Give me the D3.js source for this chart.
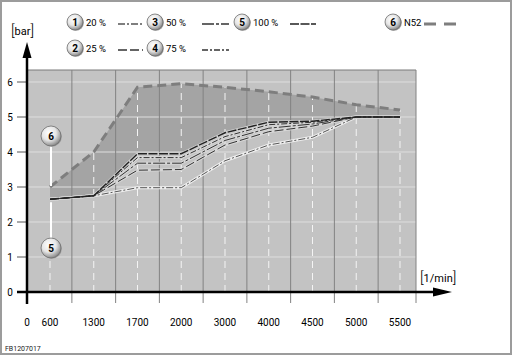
<!DOCTYPE html>
<html><head><meta charset="utf-8">
<script src="https://cdn.jsdelivr.net/npm/d3@7"></script>
<style>
html,body{margin:0;padding:0;background:#fff;}
svg{display:block;font-family:Roboto,"Noto Sans",sans-serif;}
</style></head>
<body>
<svg id="c" width="515" height="356"></svg>
<script>
// ---- data ----
const categories = ["600","1300","1700","2000","3000","4000","4500","5000","5500"];
const yTicks = [0,1,2,3,4,5,6];
const n52     = [3.0, 4.0, 5.85, 5.95, 5.85, 5.72, 5.57, 5.35, 5.2];
const load100 = [2.65, 2.75, 3.95, 3.95, 4.55, 4.85, 4.88, 5.0, 5.0];
const load75  = [2.65, 2.75, 3.84, 3.84, 4.44, 4.78, 4.85, 5.0, 5.0];
const load50  = [2.65, 2.75, 3.68, 3.68, 4.33, 4.68, 4.8, 5.0, 5.0];
const load25  = [2.65, 2.75, 3.48, 3.5, 4.2, 4.58, 4.74, 5.0, 5.0];
const load20  = [2.65, 2.75, 2.98, 2.98, 3.75, 4.2, 4.42, 5.0, 5.0];
const legendLabels = ["20 %","25 %","50 %","75 %","100 %","N52"];
const code = "FB1207017";

// ---- layout ----
const svg = d3.select("#c");
const plotL = 27, plotR = 416, plotT = 70, plotB = 292;
const x = d3.scalePoint().domain(categories).range([50, 400]);
const y = d3.scaleLinear().domain([0, 6]).range([292, 82]);

const styles = {
  "20 %":  {dash:"7,2,2,2", color:"#555", w:1,   halo:"#eeeeee", hw:3},
  "25 %":  {dash:"9,3",     color:"#333", w:1,   halo:"#d6d6d6", hw:3},
  "50 %":  {dash:"12,2,3,2",color:"#333", w:1,   halo:"#d6d6d6", hw:3},
  "75 %":  {dash:"6,2,2,2", color:"#333", w:1,   halo:"#d6d6d6", hw:3},
  "100 %": {dash:"9,1.5",   color:"#222", w:1.4, halo:"#d0d0d0", hw:3}
};

// frame
svg.append("rect").attr("x",1).attr("y",1).attr("width",510).attr("height",353)
  .attr("fill","#fff").attr("stroke","#9c9c9c").attr("stroke-width",2);

// defs: button gradient
const defs = svg.append("defs");
const g = defs.append("radialGradient").attr("id","btn").attr("cx","40%").attr("cy","35%").attr("r","65%");
g.append("stop").attr("offset","0%").attr("stop-color","#ffffff");
g.append("stop").attr("offset","55%").attr("stop-color","#e6e6e6");
g.append("stop").attr("offset","100%").attr("stop-color","#8c8c8c");

// plot background
svg.append("rect").attr("x",plotL).attr("y",plotT).attr("width",plotR-plotL).attr("height",plotB-plotT)
  .attr("fill","#c3c3c3");

// shaded area between N52 and 100%
const idx = d3.range(categories.length);
svg.append("path")
  .attr("d", d3.area().x(i => x(categories[i])).y0(i => y(load100[i])).y1(i => y(n52[i]))(idx))
  .attr("fill","#a4a4a4");

// horizontal grid + tick marks
yTicks.filter(t => t > 0).forEach(t => {
  svg.append("line").attr("x1",plotL).attr("x2",plotR).attr("y1",y(t)).attr("y2",y(t))
    .attr("stroke","#dedede").attr("stroke-width",1);
  svg.append("line").attr("x1",17).attr("x2",plotL).attr("y1",y(t)).attr("y2",y(t))
    .attr("stroke","#555").attr("stroke-width",1);
});
// top border
svg.append("line").attr("x1",plotL).attr("x2",plotR).attr("y1",plotT).attr("y2",plotT)
  .attr("stroke","#7a7a7a").attr("stroke-width",1);

// vertical grid lines (between categories) and right edge
const gridXs = [];
for (let i = 0; i < categories.length - 1; i++) gridXs.push((x(categories[i]) + x(categories[i+1])) / 2);
gridXs.push(plotR);
gridXs.forEach(gx => {
  svg.append("line").attr("x1",gx).attr("x2",gx).attr("y1",plotT).attr("y2",303)
    .attr("stroke","#828282").attr("stroke-width",1);
});

// dashed white verticals at data points
categories.forEach((c, i) => {
  if (i === 0) return;
  svg.append("line").attr("x1",x(c)).attr("x2",x(c)).attr("y1",y(0)).attr("y2",y(n52[i]))
    .attr("stroke","#f4f4f4").attr("stroke-width",1).attr("stroke-dasharray","7,5");
});
svg.append("line").attr("x1",x(categories[0])).attr("x2",x(categories[0])).attr("y1",y(0)).attr("y2",258)
  .attr("stroke","#f4f4f4").attr("stroke-width",1).attr("stroke-dasharray","7,5");

// series
const line = d3.line().x((d,i) => x(categories[i])).y(d => y(d));
const series = [["20 %",load20],["25 %",load25],["50 %",load50],["75 %",load75],["100 %",load100]];
series.forEach(([k, v]) => {
  svg.append("path").attr("d", line(v)).attr("fill","none")
    .attr("stroke", styles[k].halo).attr("stroke-width", styles[k].hw).attr("stroke-linejoin","round");
});
series.forEach(([k, v]) => {
  svg.append("path").attr("d", line(v)).attr("fill","none")
    .attr("stroke", styles[k].color).attr("stroke-width", styles[k].w)
    .attr("stroke-dasharray", styles[k].dash);
});
// N52
svg.append("path").attr("d", line(n52)).attr("fill","none")
  .attr("stroke","#7e7e7e").attr("stroke-width",3).attr("stroke-dasharray","9,5");

// axes
svg.append("line").attr("x1",plotL).attr("x2",plotL).attr("y1",304).attr("y2",52)
  .attr("stroke","#000").attr("stroke-width",2.5);
svg.append("path").attr("d",`M${plotL},42 L${plotL-4.5},58 L${plotL+4.5},58 Z`).attr("fill","#000");
svg.append("line").attr("x1",17).attr("x2",440).attr("y1",y(0)).attr("y2",y(0))
  .attr("stroke","#000").attr("stroke-width",2.5);
svg.append("path").attr("d",`M452,${y(0)} L433,${y(0)-4.5} L433,${y(0)+4.5} Z`).attr("fill","#000");

// tick labels
yTicks.forEach(t => {
  svg.append("text").attr("x",10).attr("y",y(t)+3.5).attr("text-anchor","middle")
    .attr("font-size",10).attr("fill","#000").text(t);
});
svg.append("text").attr("x",plotL).attr("y",326).attr("text-anchor","middle")
  .attr("font-size",10).text("0");
categories.forEach(c => {
  svg.append("text").attr("x",x(c)).attr("y",326).attr("text-anchor","middle")
    .attr("font-size",10).text(c);
});

// unit labels
function unit(xp, yp, txt) {
  const t = svg.append("text").attr("x",xp).attr("y",yp).attr("font-size",11);
  t.append("tspan").attr("font-size",15).attr("font-weight",300).text("[");
  t.append("tspan").attr("dy",-1).text(txt);
  t.append("tspan").attr("dy",1).attr("font-size",15).attr("font-weight",300).text("]");
}
unit(11, 36, "bar");
unit(420, 283, "1/min");

// buttons
function button(cx, cy, r, num) {
  const gg = svg.append("g");
  gg.append("circle").attr("cx",cx+0.8).attr("cy",cy+0.8).attr("r",r).attr("fill","#9a9a9a");
  gg.append("circle").attr("cx",cx).attr("cy",cy).attr("r",r).attr("fill","url(#btn)")
    .attr("stroke","#6e6e6e").attr("stroke-width",0.8);
  gg.append("text").attr("x",cx).attr("y",cy+3.6).attr("text-anchor","middle")
    .attr("font-size",10).attr("font-weight","bold").text(num);
}

// callouts at first category
const cx0 = x(categories[0]) + 1;
svg.append("line").attr("x1",cx0).attr("x2",cx0).attr("y1",146).attr("y2",y(n52[0])-1)
  .attr("stroke","#ffffff").attr("stroke-width",2);
svg.append("line").attr("x1",cx0).attr("x2",cx0).attr("y1",y(load100[0])+3).attr("y2",238)
  .attr("stroke","#ffffff").attr("stroke-width",2);
button(cx0, 136, 10, 6);
button(cx0, 248, 10, 5);

// legend
const legendPos = [
  {cx:75,  cy:22, lx:118, lw:25},
  {cx:75,  cy:48, lx:118, lw:25},
  {cx:155, cy:22, lx:202, lw:27},
  {cx:155, cy:48, lx:202, lw:27},
  {cx:242, cy:22, lx:290, lw:26},
  {cx:393, cy:22, lx:424, lw:32}
];
legendLabels.forEach((lab, i) => {
  const p = legendPos[i];
  button(p.cx, p.cy, 8, i + 1);
  svg.append("text").attr("x",p.cx+11).attr("y",p.cy+3.5).attr("font-size",9.5).text(lab);
  if (lab === "N52") {
    svg.append("line").attr("x1",p.lx).attr("x2",p.lx+p.lw).attr("y1",p.cy+2).attr("y2",p.cy+2)
      .attr("stroke","#7e7e7e").attr("stroke-width",3).attr("stroke-dasharray","12,8");
  } else {
    const s = styles[lab];
    svg.append("line").attr("x1",p.lx).attr("x2",p.lx+p.lw).attr("y1",p.cy+2).attr("y2",p.cy+2)
      .attr("stroke",s.color).attr("stroke-width",s.w+0.3).attr("stroke-dasharray",s.dash);
  }
});

// code
svg.append("text").attr("x",5).attr("y",351).attr("font-size",7).attr("fill","#222").text(code);
</script>
</body></html>
